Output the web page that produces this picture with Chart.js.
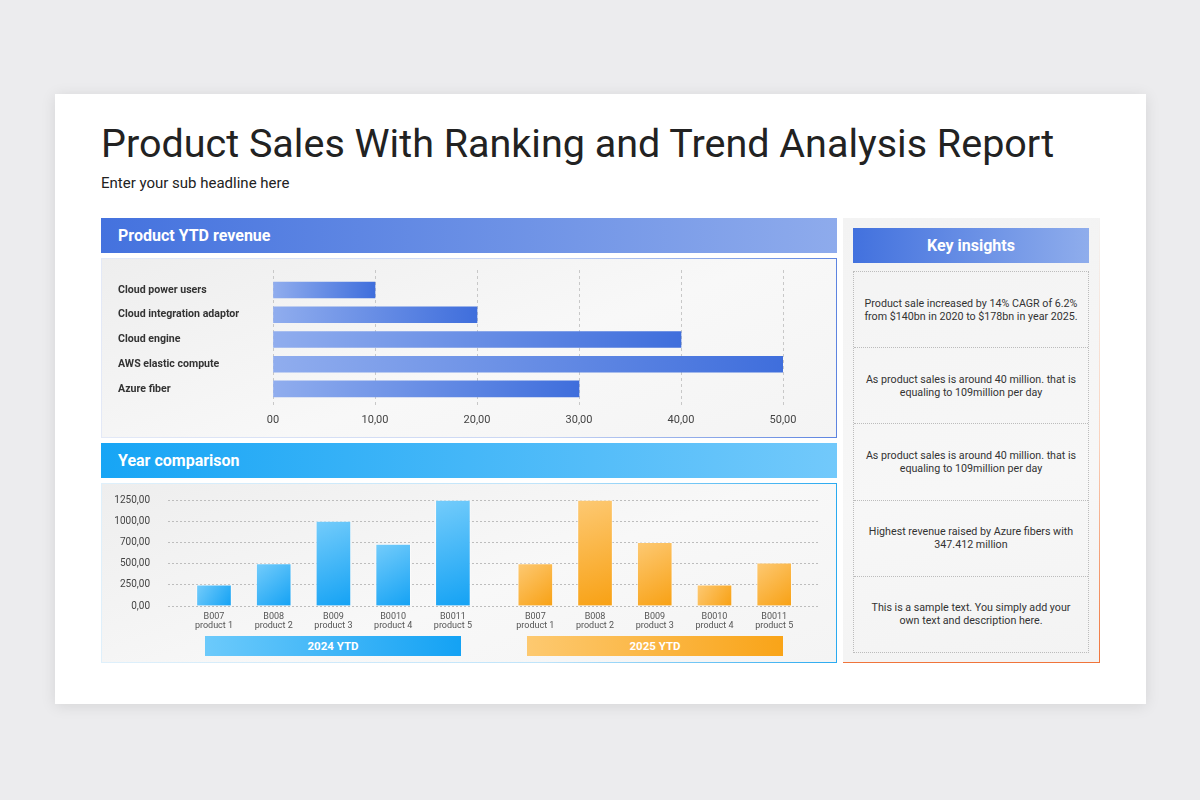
<!DOCTYPE html>
<html>
<head>
  <meta charset="UTF-8">
  <title>Product Sales With Ranking and Trend Analysis Report</title>
  <script src="https://cdn.jsdelivr.net/npm/chart.js"></script>
  <style>
    html, body {
      margin: 0;
      padding: 0;
    }
    body {
      width: 1200px;
      height: 800px;
      background: #ececee;
      font-family: Roboto, "Noto Sans", sans-serif;
      position: relative;
      overflow: hidden;
    }
    .card {
      position: absolute;
      left: 55px;
      top: 94px;
      width: 1091px;
      height: 610px;
      background: #fff;
      box-shadow: 0 2px 14px rgba(0, 0, 0, 0.10);
    }
    .title {
      position: absolute;
      left: 101px;
      top: 120px;
      margin: 0;
      font-size: 39.5px;
      font-weight: 400;
      color: #222;
      white-space: nowrap;
    }
    .subtitle {
      position: absolute;
      left: 101px;
      top: 174px;
      font-size: 15px;
      color: #222;
    }
    .header {
      position: absolute;
      height: 35px;
      line-height: 35px;
      color: #fff;
      font-weight: bold;
      font-size: 16px;
      box-sizing: border-box;
      padding-left: 17px;
    }
    #revHeader {
      left: 101px; top: 218px; width: 736px;
      background: linear-gradient(to right, #4472de, #8eabec);
    }
    #yearHeader {
      left: 101px; top: 443px; width: 736px;
      background: linear-gradient(to right, #17a5f5, #72c9fb);
    }
    .panel {
      position: absolute;
      left: 101px;
      width: 736px;
      height: 180px;
      box-sizing: border-box;
      background: linear-gradient(160deg, #eeeeee, #f8f8f8 55%, #f4f4f4);
      border: 1.5px solid;
    }
    #revPanel {
      top: 258px;
      border-image: linear-gradient(to right, #e3e9f7, #c9d6f4 60%, #5d84e0) 1;
    }
    #yearPanel {
      top: 483px;
      border-image: linear-gradient(to right, #dff0fb, #bfe4fa 60%, #2aaaf0) 1;
    }
    canvas.chart {
      position: absolute;
      left: 101px;
      width: 736px;
      height: 180px;
    }
    #revChart { top: 258px; }
    #yearChart { top: 483px; }
    .legend {
      position: absolute;
      top: 636px;
      width: 256px;
      height: 20px;
      line-height: 20px;
      text-align: center;
      color: #fff;
      font-weight: bold;
      font-size: 11.5px;
    }
    #legend2024 {
      left: 205px;
      background: linear-gradient(to right, #6ccafb, #14a2f4);
    }
    #legend2025 {
      left: 527px;
      background: linear-gradient(to right, #fdc970, #f9a418);
    }
    .insights {
      position: absolute;
      left: 843px;
      top: 218px;
      width: 257px;
      height: 445px;
      box-sizing: border-box;
      background: linear-gradient(170deg, #f3f3f3, #f7f7f7 60%, #f3f3f3);
      border-style: solid;
      border-width: 0 1.5px 1.5px 0;
      border-image: linear-gradient(to bottom, #f3f3f3, #f9d2bd 50%, #f0743a) 1;
    }
    #insightHeader {
      left: 853px; top: 228px; width: 236px;
      padding-left: 0;
      text-align: center;
      background: linear-gradient(to right, #4271de, #8fadec);
    }
    .boxes {
      position: absolute;
      left: 853px;
      top: 271px;
      width: 236px;
      box-sizing: border-box;
      border: 1px dotted #bcbcbc;
    }
    .box {
      height: 75.2px;
      display: flex;
      align-items: center;
      justify-content: center;
      text-align: center;
      font-size: 10.7px;
      line-height: 13px;
      color: #333;
      padding: 0 2px;
      border-bottom: 1px dotted #bcbcbc;
    }
    .box:last-child {
      border-bottom: none;
    }
  </style>
</head>
<body>
  <div class="card"></div>
  <h1 class="title">Product Sales With Ranking and Trend Analysis Report</h1>
  <div class="subtitle">Enter your sub headline here</div>

  <div class="header" id="revHeader">Product YTD revenue</div>
  <div class="panel" id="revPanel"></div>
  <canvas class="chart" id="revChart" width="736" height="180"></canvas>

  <div class="header" id="yearHeader">Year comparison</div>
  <div class="panel" id="yearPanel"></div>
  <canvas class="chart" id="yearChart" width="736" height="180"></canvas>
  <div class="legend" id="legend2024">2024 YTD</div>
  <div class="legend" id="legend2025">2025 YTD</div>

  <div class="insights"></div>
  <div class="header" id="insightHeader">Key insights</div>
  <div class="boxes">
    <div class="box">Product sale increased by 14% CAGR of 6.2%<br>from $140bn in 2020 to $178bn in year 2025.</div>
    <div class="box">As product sales is around 40 million. that is<br>equaling to 109million per day</div>
    <div class="box">As product sales is around 40 million. that is<br>equaling to 109million per day</div>
    <div class="box">Highest revenue raised by Azure fibers with<br>347.412 million</div>
    <div class="box">This is a sample text. You simply add your<br>own text and description here.</div>
  </div>

  <script>
  // Product YTD revenue
  const revCategories = ['Cloud power users', 'Cloud integration adaptor', 'Cloud engine', 'AWS elastic compute', 'Azure fiber'];
  const revValues = [10, 20, 40, 50, 30];
  const revTickLabels = ['00', '10,00', '20,00', '30,00', '40,00', '50,00'];

  // Year comparison
  const productCodes = ['B007', 'B008', 'B009', 'B0010', 'B0011'];
  const productNames = ['product 1', 'product 2', 'product 3', 'product 4', 'product 5'];
  const sales2024 = [250, 500, 1000, 730, 1250];
  const sales2025 = [500, 1250, 750, 250, 510];
  const salesTickLabels = ['0,00', '250,00', '500,00', '700,00', '1000,00', '1250,00'];

  // layout: second year group starts this many slots after the first
  const groupOffset = 5.38;

  Chart.defaults.font.family = 'Roboto';
  Chart.defaults.animation = false;

  // gradient along each horizontal bar, light at the start, dark at the end
  function revBarColor(ctx) {
    const chart = ctx.chart;
    if (!chart.chartArea || ctx.raw == null) return '#6a8fe5';
    const x = chart.scales.x;
    const x0 = x.getPixelForValue(0);
    const x1 = x.getPixelForValue(ctx.raw.x);
    const g = chart.ctx.createLinearGradient(x0, 0, x1, 0);
    g.addColorStop(0, '#90adee');
    g.addColorStop(1, '#3f6edc');
    return g;
  }

  // diagonal gradient for the column bars
  function columnColor(light, dark) {
    return function (ctx) {
      const chart = ctx.chart;
      if (!chart.chartArea || ctx.raw == null) return dark;
      const x = chart.scales.x, y = chart.scales.y;
      const cx = x.getPixelForValue(ctx.raw.x);
      const top = y.getPixelForValue(ctx.raw.y);
      const bottom = y.getPixelForValue(0);
      const g = chart.ctx.createLinearGradient(cx - 17, top, cx + 17, bottom);
      g.addColorStop(0, light);
      g.addColorStop(1, dark);
      return g;
    };
  }

  new Chart(document.getElementById('revChart'), {
    type: 'bar',
    data: {
      datasets: [{
        data: revValues.map((v, i) => ({ x: v, y: i })),
        backgroundColor: revBarColor,
        barThickness: 16,
        borderSkipped: false
      }]
    },
    options: {
      indexAxis: 'y',
      responsive: false,
      layout: { padding: { left: 17, right: 54, top: 12, bottom: 0 } },
      plugins: { legend: { display: false }, tooltip: { enabled: false } },
      scales: {
        x: {
          type: 'linear',
          min: 0,
          max: 50,
          afterFit: s => { s.height = 31; },
          grid: { color: '#c8c8c8', drawTicks: false },
          border: { display: false, dash: [3, 3] },
          ticks: {
            stepSize: 10,
            padding: 7,
            color: '#444',
            font: { size: 11 },
            callback: (v, i) => revTickLabels[i]
          }
        },
        y: {
          type: 'linear',
          offset: false,
          reverse: true,
          min: -0.81,
          max: 4.73,
          afterFit: s => { s.width = 155; },
          afterBuildTicks: axis => { axis.ticks = revCategories.map((c, i) => ({ value: i })); },
          grid: { display: false, drawTicks: false },
          border: { display: false },
          ticks: {
            autoSkip: false,
            crossAlign: 'far',
            color: '#333',
            font: { size: 10.6, weight: 'bold' },
            callback: v => revCategories[v]
          }
        }
      }
    }
  });

  const pos2024 = productCodes.map((c, i) => i);
  const pos2025 = productCodes.map((c, i) => i + groupOffset);
  const xTickPos = pos2024.concat(pos2025);
  const xTickLabels = productCodes.map((c, i) => [c, productNames[i]]);

  new Chart(document.getElementById('yearChart'), {
    type: 'bar',
    data: {
      datasets: [{
        label: '2024 YTD',
        data: sales2024.map((v, i) => ({ x: pos2024[i], y: v })),
        backgroundColor: columnColor('#74ccfb', '#14a2f4'),
        borderColor: 'rgba(255,255,255,0.55)',
        borderWidth: 1,
        barThickness: 35,
        grouped: false
      }, {
        label: '2025 YTD',
        data: sales2025.map((v, i) => ({ x: pos2025[i], y: v })),
        backgroundColor: columnColor('#fdc973', '#f8a114'),
        borderColor: 'rgba(255,255,255,0.55)',
        borderWidth: 1,
        barThickness: 35,
        grouped: false
      }]
    },
    options: {
      responsive: false,
      layout: { padding: { left: 0, right: 18, top: 17, bottom: 0 } },
      plugins: { legend: { display: false }, tooltip: { enabled: false } },
      scales: {
        x: {
          type: 'linear',
          offset: false,
          min: -0.77,
          max: 10.13,
          afterFit: s => { s.height = 57; },
          afterBuildTicks: axis => { axis.ticks = xTickPos.map(v => ({ value: v })); },
          grid: { display: false, drawTicks: false },
          border: { display: false },
          ticks: {
            autoSkip: false,
            maxRotation: 0,
            padding: 6,
            color: '#555',
            font: { size: 9, lineHeight: 1.0 },
            callback: (v, i) => xTickLabels[i % productCodes.length]
          }
        },
        y: {
          min: 0,
          max: 1250,
          afterFit: s => { s.width = 67; },
          grid: { color: '#bdbdbd', drawTicks: true, tickLength: 9, tickColor: 'rgba(0,0,0,0)' },
          border: { display: false, dash: [2, 2] },
          ticks: {
            stepSize: 250,
            padding: 9,
            color: '#444',
            font: { size: 10 },
            callback: (v, i) => salesTickLabels[i]
          }
        }
      }
    }
  });
  </script>
</body>
</html>
